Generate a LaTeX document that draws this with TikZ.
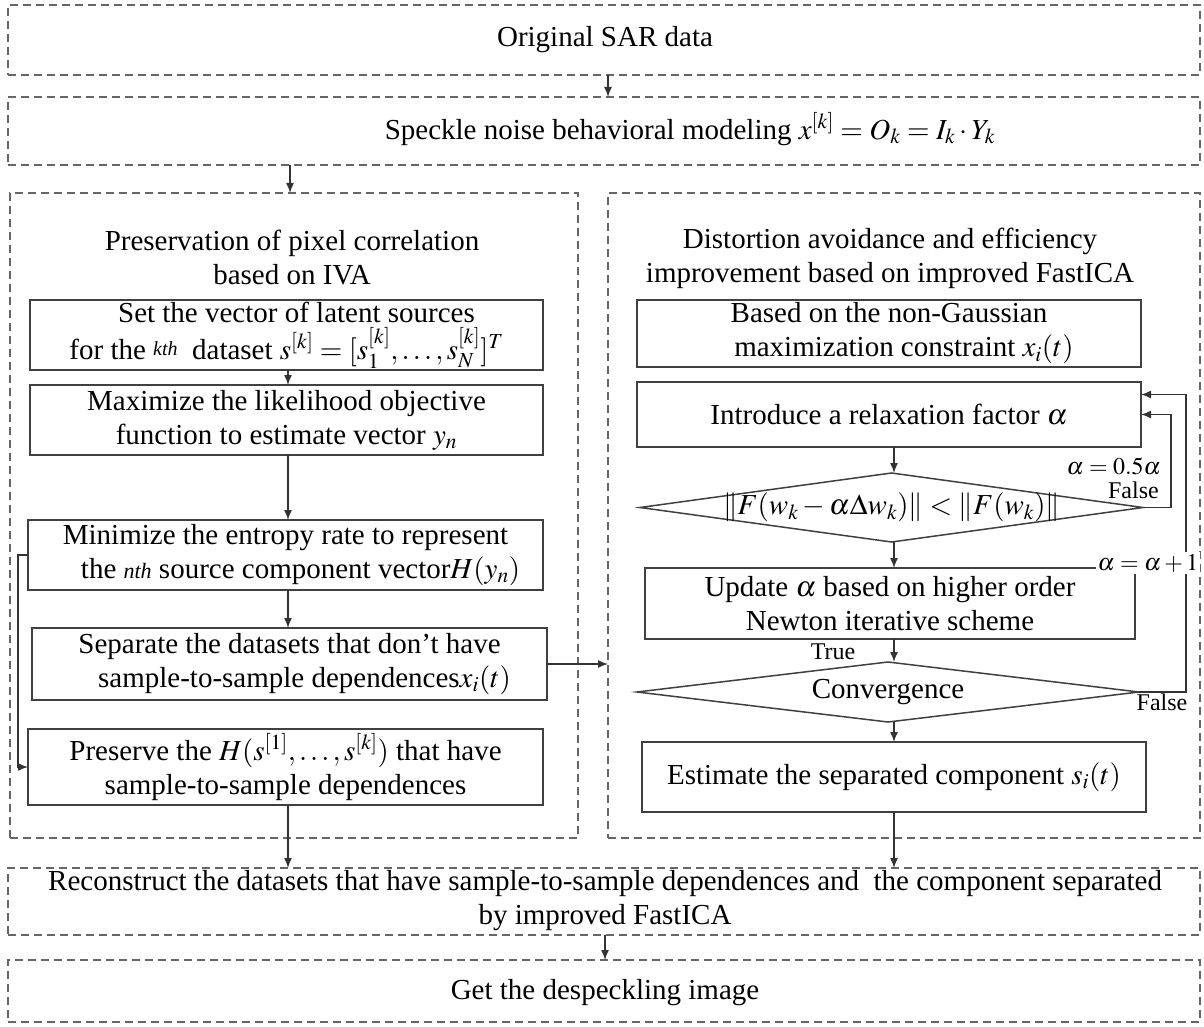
\documentclass[tikz,border=0pt]{standalone}
\usepackage{mathptmx}
\usepackage[no-math]{fontspec}
\setmainfont{Liberation Serif}
\usetikzlibrary{arrows.meta,shapes.geometric,calc}
\begin{document}
\begin{tikzpicture}[x=1pt,y=-1pt,
  font=\fontsize{29}{34}\selectfont,
  dbox/.style={draw=black!60,line width=1.8pt,dash pattern=on 8pt off 5pt,rectangle,outer sep=0pt,inner sep=0pt},
  sbox/.style={draw=black!75,line width=1.5pt,rectangle,outer sep=0pt,inner sep=0pt,align=center},
  dmd/.style={draw=black!75,line width=1.5pt,diamond,outer sep=0pt,inner sep=0pt,aspect=7},
  arr/.style={draw=black!80,line width=1.4pt,-{Latex[length=10pt,width=8pt]}},
  ln/.style={draw=black!80,line width=1.4pt},
  lab/.style={font=\fontsize{24}{26}\selectfont,inner sep=1pt}]
\useasboundingbox (0,0) rectangle (1204,1027);
\fill[white] (0,0) rectangle (1204,1027);
% top boxes
\node[dbox,minimum width=1192pt,minimum height=70pt] (T1) at (604,40) {};
\node at (605,40) {Original SAR data};
\node[dbox,minimum width=1192pt,minimum height=68pt] (T2) at (604,131) {};
\node at (690,129) {Speckle noise behavioral modeling $x^{[k]}=O_k=I_k\cdot Y_k$};
% panels
\node[dbox,minimum width=568pt,minimum height=645pt] (LP) at (294,515.5) {};
\node[dbox,minimum width=592pt,minimum height=645pt] (RP) at (904,515.5) {};
\node[align=center] (LT) at (292,258) {Preservation of pixel correlation\\based on IVA};
\node[align=center] (RT) at (890,258) {Distortion avoidance and efficiency\\improvement based on improved FastICA};
% left boxes
\node[sbox,minimum width=513pt,minimum height=70pt] (L1) at (286.5,335) {\hspace*{20pt}Set the vector of latent sources\\[3pt]for the {\itshape\fontsize{20}{22}\selectfont\raisebox{4pt}{kth}}\ \ dataset $s^{[k]}=[s_1^{[k]},\ldots,s_N^{[k]}]^T$};
\node[sbox,minimum width=513pt,minimum height=70pt] (L2) at (286.5,420) {Maximize the likelihood objective\\function to estimate vector $y_n$};
\node[sbox,minimum width=515pt,minimum height=70pt] (L3) at (285.5,555) {Minimize the entropy rate to represent\\\hspace*{30pt}the {\itshape\fontsize{22}{24}\selectfont nth} source component vector$H(y_n)$};
\node[sbox,minimum width=515pt,minimum height=72pt] (L4) at (289.5,664) {Separate the datasets that don’t have\\\hspace*{30pt}sample-to-sample dependences$x_i(t)$};
\node[sbox,minimum width=515pt,minimum height=76pt] (L5) at (285.5,767) {Preserve the $H(s^{[1]},\ldots,s^{[k]})$ that have\\sample-to-sample dependences};
\coordinate (cL) at (288,0);
\draw[arr] (L1.south -| cL) -- (L2.north -| cL);
\draw[arr] (L2.south -| cL) -- (L3.north -| cL);
\draw[arr] (L3.south -| cL) -- (L4.north -| cL);
\draw[arr] (L3.west) -- ++(-10,0) |- (L5.west);
\draw[arr] (L4.east) -- (L4.east -| RP.west);
% right boxes
\node[sbox,minimum width=504pt,minimum height=67pt] (R1) at (889,333.5) {Based on the non-Gaussian\\\hspace*{30pt}maximization constraint $x_i(t)$};
\node[sbox,minimum width=504pt,minimum height=65pt] (R2) at (889,414.5) {Introduce a relaxation factor $\alpha$};
\node[dmd,minimum width=503pt,minimum height=69pt] (D1) at (891.5,507.5) {};
\node at (D1) {$\|F(w_k-\alpha\Delta w_k)\|<\|F(w_k)\|$};
\node[sbox,minimum width=490pt,minimum height=71pt] (U) at (890,603.5) {Update $\alpha$ based on higher order\\Newton iterative scheme};
\node[dmd,minimum width=502pt,minimum height=60pt] (D2) at (888,692) {};
\node at (D2) {Convergence};
\node[sbox,minimum width=504pt,minimum height=70pt] (E) at (894,777) {Estimate the separated component $s_i(t)$};
\coordinate (cR) at (894,0);
\draw[arr] (R2.south -| cR) -- (D1.north -| cR);
\draw[arr] (D1.south -| cR) -- (U.north -| cR);
\draw[arr] (U.south -| cR) -- (D2.north -| cR);
\draw[arr] (D2.south -| cR) -- (E.north -| cR);
\node[lab] (tru) at (833,652) {True};
% loops
\draw[arr] (D1.east) -- (1171,507.5) |- (R2.east);
\draw[arr] (D2.east) -- (1186,692) |- ([yshift=20pt]R2.east);
\node[lab,anchor=east] (l05) at (1162,467) {$\alpha=0.5\alpha$};
\node[lab,anchor=east] (f1) at (1160,490) {False};
\node[lab,fill=white,inner sep=2pt] (lp1) at (1148,563) {$\alpha=\alpha+1$};
\node[lab] (f2) at (1162,702) {False};
% bottom
\node[dbox,minimum width=1192pt,minimum height=67pt] (RC) at (604,901.5) {};
\node[align=center] at (605,901) {Reconstruct the datasets that have sample-to-sample dependences and\ \ the component separated\\by improved FastICA};
\node[dbox,minimum width=1192pt,minimum height=62pt] (G) at (604,991) {};
\node at (605,993) {Get the despeckling image};
\draw[arr] (T1.south -| 608,0) -- (T2.north -| 608,0);
\draw[arr] (T2.south -| 290,0) -- (LP.north -| 290,0);
\draw[arr] (L5.south -| cL) -- (RC.north -| cL);
\draw[arr] (E.south -| cR) -- (RC.north -| cR);
\draw[arr] (RC.south -| 605,0) -- (G.north -| 605,0);
\end{tikzpicture}
\end{document}
